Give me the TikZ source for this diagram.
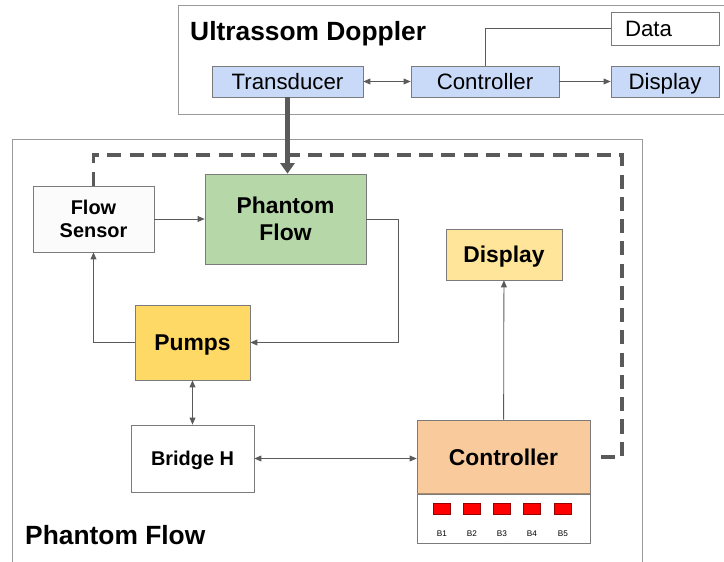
\documentclass[tikz,border=0pt]{standalone}
\usepackage{fontspec}
\setmainfont{Liberation Sans}
\usetikzlibrary{arrows.meta, positioning, calc}
\definecolor{biruusg}{HTML}{C9DAF8}
\definecolor{hijaupf}{HTML}{B6D7A8}
\definecolor{kuningpm}{HTML}{FFD966}
\definecolor{kuningds}{HTML}{FFE599}
\definecolor{oranyect}{HTML}{F9CB9C}
\definecolor{garis}{HTML}{5A5A5A}
\definecolor{bingkai}{HTML}{9A9A9A}

\tikzset{
    blok/.style 2 args={draw=garis!80, line width=0.6pt, minimum width=#1*0.03cm, minimum height=#2*0.03cm, inner sep=0pt, align=center},
    teksbiasa/.style={font=\fontsize{19}{21}\selectfont, text height=13.6pt, text depth=0pt},
    teksblok/.style={font=\bfseries\fontsize{19.5}{23}\selectfont},
    tekskecil/.style={font=\bfseries\fontsize{17}{20}\selectfont},
    sebaris/.style={text height=#1, text depth=0pt},
    judul/.style={font=\bfseries\fontsize{22.5}{26}\selectfont, anchor=west, inner sep=0pt},
    panah/.style={draw=garis, line width=0.7pt, -{Triangle[width=5pt,length=6pt]}},
    panahdua/.style={draw=garis, line width=0.7pt, {Triangle[width=5pt,length=6pt]}-{Triangle[width=5pt,length=6pt]}},
    garisputus/.style={draw=garis, line width=2.6pt, dash pattern=on 12pt off 7pt}
}

\begin{document}
\begin{tikzpicture}[x=0.03cm, y=-0.03cm]
        \useasboundingbox (0,0) rectangle (724,562);
        \draw[bingkai, line width=0.8pt] (724,5) -| (178,114) -- (724,114);
        \draw[bingkai, line width=0.8pt] (12,562) |- (642,139) -- (642,562);
        \node[judul] at (190,34) {Ultrassom Doppler};
        \node[judul] at (25,535) {Phantom Flow};

        \node[blok={151}{31}, fill=biruusg, teksbiasa] (trans) at (287.5,81.5) {Transducer};
        \node[blok={148}{31}, fill=biruusg, teksbiasa] (ctrlus) at (485,81.5) {Controller};
        \node[blok={108}{31}, fill=biruusg, teksbiasa] (dispus) at (665,81.5) {Display};
        \node[blok={108}{33}, fill=white, teksbiasa, text width=2.4cm, align=left] (data) at (665,28.5) {Data};
        \draw[panahdua] (trans) -- (ctrlus);
        \draw[panah] (ctrlus) -- (dispus);
        \draw[draw=garis, line width=0.7pt] (ctrlus.north) |- (data.west);

        \node[blok={121}{66}, fill=gray!3, tekskecil] (sensor) at (93.5,219) {Flow\\Sensor};
        \node[blok={161}{90}, fill=hijaupf, teksblok] (phantom) at (285.5,219) {Phantom\\Flow};
        \node[blok={115}{75}, fill=kuningpm, teksblok, sebaris=14pt] (pumps) at (192.5,342.5) {Pumps};
        \node[blok={123}{67}, fill=white, tekskecil, sebaris=12.2pt] (bridge) at (192.5,458.5) {Bridge H};
        \node[blok={173}{74}, fill=oranyect, teksblok, sebaris=14pt] (ctrl) at (503.5,457) {Controller};
        \node[blok={173}{49}, fill=white] (panel) at (503.5,518.5) {};
        \node[blok={116}{51}, fill=kuningds, teksblok, sebaris=14pt] (disp) at (504,254.5) {Display};
        \draw[draw=brown!70!black!70, line width=1.2pt] (panel.north west) -- (panel.north east);
        \foreach \x/\lbl in {442/B1, 472/B2, 502/B3, 532/B4, 563/B5}
        {
            \node[draw=red!60!black, fill=red, minimum width=17*0.03cm, minimum height=11*0.03cm, inner sep=0pt] (btn\lbl) at (\x,508.5) {};
            \node[font=\fontsize{7}{8}\selectfont, inner sep=0pt] (lbl\lbl) at (\x,534) {\lbl};
        }

        \draw[draw=garis, line width=4pt, -{Triangle[width=12pt,length=9pt]}] (trans.south) -- (trans.south |- phantom.north);
        \coordinate (ujungputus) at (598,457);
        \draw[garisputus] (sensor.north) |- (622,155) |- (ujungputus);
        \draw[panah] (sensor) -- (phantom);
        \draw[panah] (phantom.east) -- ++(32,0) |- (pumps.east);
        \draw[panah] (pumps.west) -| (sensor.south);
        \draw[panahdua] (pumps) -- (bridge);
        \draw[panahdua] (bridge.east) -- (bridge.east -| ctrl.west);
        \draw[panah] (ctrl) -- (disp);
    \end{tikzpicture}
\end{document}
